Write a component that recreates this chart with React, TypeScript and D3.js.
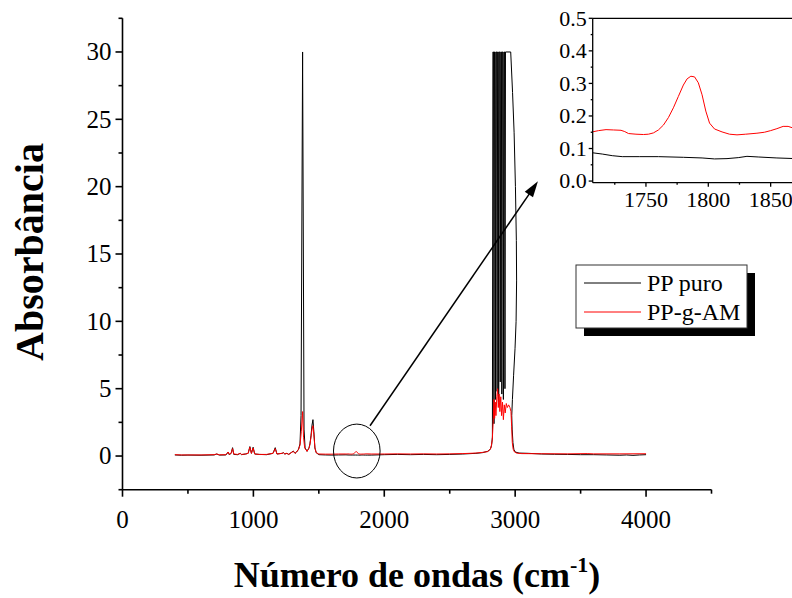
import React from 'react';
import * as d3 from 'd3';

type Pt = [number, number];

// PP puro (black) spectrum: [wavenumber cm-1, absorbance]
const ppPuro: Pt[] = [
  [400, 0.08], [450, 0.06], [500, 0.07], [600, 0.06], [700, 0.08], [720, 0.15], [740, 0.07],
  [790, 0.08], [808, 0.3], [815, 0.1], [830, 0.2], [841, 0.62], [850, 0.12], [880, 0.1],
  [899, 0.2], [910, 0.1], [940, 0.15], [960, 0.2], [973, 0.7], [985, 0.2], [998, 0.65],
  [1010, 0.15], [1045, 0.12], [1100, 0.1], [1150, 0.2], [1167, 0.62], [1180, 0.15], [1220, 0.2],
  [1229, 0.25], [1240, 0.15], [1256, 0.2], [1270, 0.12], [1305, 0.37], [1318, 0.2], [1330, 0.3],
  [1345, 0.5], [1356, 0.9], [1364, 3], [1376, 30], [1387, 2], [1395, 0.6], [1410, 0.35],
  [1425, 0.6], [1432, 0.9], [1440, 1.5], [1448, 2.3], [1455, 2.7], [1462, 1.8], [1470, 0.6],
  [1480, 0.25], [1500, 0.1], [1550, 0.08], [1600, 0.07], [1650, 0.08],
  [1707, 0.087], [1715, 0.083], [1723, 0.078], [1731, 0.075], [1745, 0.075], [1760, 0.075],
  [1780, 0.073], [1795, 0.071], [1805, 0.068], [1815, 0.069], [1824, 0.072], [1831, 0.076],
  [1840, 0.074], [1855, 0.071], [1870, 0.069],
  [1900, 0.07], [2000, 0.1], [2100, 0.12], [2200, 0.1], [2300, 0.12], [2400, 0.1], [2500, 0.12],
  [2600, 0.15], [2700, 0.2], [2750, 0.25], [2790, 0.35], [2810, 0.5], [2820, 0.8], [2826, 1.4],
  [2830, 30], [2835, 30], [2838, 2.4], [2842, 30], [2847, 30], [2850, 4.2], [2854, 30],
  [2859, 30], [2862, 4.8], [2866, 30], [2871, 30], [2874, 4.0], [2878, 30], [2883, 30],
  [2886, 5.5], [2890, 30], [2895, 30], [2898, 4.6], [2902, 30], [2907, 30], [2910, 4.2],
  [2914, 30], [2919, 30], [2922, 5], [2926, 30], [2966, 30], [2980, 27], [2992, 24],
  [3002, 20], [3009, 16], [3011, 13], [3007, 10], [2999, 8], [2988, 6], [2979, 4.2],
  [2974, 3], [2977, 2], [2983, 1], [2990, 0.5],
  [3000, 0.3], [3030, 0.22], [3100, 0.2], [3200, 0.15], [3300, 0.13], [3400, 0.12],
  [3500, 0.1], [3600, 0.1], [3700, 0.08], [3800, 0.06], [3850, 0.08], [3900, 0.05],
  [3950, 0.08], [4000, 0.1],
];

// PP-g-AM (red) spectrum
const ppgAM: Pt[] = [
  [400, 0.1], [450, 0.08], [500, 0.08], [600, 0.08], [700, 0.1], [720, 0.15], [740, 0.09],
  [790, 0.1], [808, 0.3], [815, 0.12], [830, 0.2], [841, 0.55], [850, 0.15], [880, 0.12],
  [899, 0.2], [910, 0.12], [940, 0.15], [960, 0.2], [973, 0.65], [985, 0.2], [998, 0.6],
  [1010, 0.15], [1045, 0.12], [1100, 0.12], [1150, 0.2], [1167, 0.55], [1180, 0.15], [1220, 0.2],
  [1229, 0.25], [1240, 0.15], [1256, 0.2], [1270, 0.12], [1305, 0.35], [1318, 0.2], [1330, 0.3],
  [1345, 0.5], [1356, 0.8], [1366, 1.8], [1376, 3.3], [1383, 1.4], [1392, 0.6], [1410, 0.35],
  [1425, 0.6], [1432, 0.85], [1440, 1.4], [1448, 2.0], [1455, 2.25], [1462, 1.6], [1470, 0.6],
  [1480, 0.25], [1500, 0.15], [1550, 0.14], [1600, 0.14], [1650, 0.15],
  [1707, 0.151], [1712, 0.155], [1718, 0.158], [1724, 0.157], [1730, 0.156], [1733, 0.152],
  [1736, 0.146], [1742, 0.144], [1748, 0.143], [1752, 0.144], [1756, 0.148], [1760, 0.157],
  [1764, 0.172], [1768, 0.195], [1772, 0.225], [1776, 0.26], [1780, 0.295], [1783, 0.314],
  [1786, 0.322], [1789, 0.32], [1792, 0.302], [1795, 0.265], [1798, 0.215], [1801, 0.178],
  [1805, 0.16], [1811, 0.151], [1817, 0.144], [1823, 0.142], [1830, 0.144], [1839, 0.147],
  [1845, 0.15], [1850, 0.155], [1855, 0.161], [1860, 0.168], [1864, 0.168], [1868, 0.163],
  [1875, 0.158], [1900, 0.15], [2000, 0.15], [2100, 0.16], [2200, 0.15], [2300, 0.16],
  [2400, 0.15], [2500, 0.16], [2600, 0.18], [2700, 0.22], [2750, 0.27], [2790, 0.33],
  [2805, 0.45], [2815, 0.6], [2825, 1.2], [2832, 2.5], [2838, 4.2], [2843, 2.8], [2848, 4.0],
  [2853, 3.0], [2860, 4.4], [2866, 5.0], [2871, 3.6], [2877, 4.6], [2883, 3.3], [2890, 4.4],
  [2896, 3.0], [2903, 4.0], [2910, 2.7], [2917, 3.8], [2924, 3.2], [2932, 3.9], [2940, 3.6],
  [2950, 3.8], [2960, 3.6], [2968, 3.3], [2973, 2.2], [2978, 1.0], [2985, 0.5], [2995, 0.3],
  [3010, 0.22], [3050, 0.18], [3200, 0.17], [3400, 0.16], [3550, 0.18], [3600, 0.16],
  [3800, 0.16], [4000, 0.17],
];

const seriesLabels = ['PP puro', 'PP-g-AM'];
const seriesColors = ['#000000', '#ff0000'];

const mainXTicks = [0, 1000, 2000, 3000, 4000];
const mainXMinor = [500, 1500, 2500, 3500, 4500];
const mainYTicks = [0, 5, 10, 15, 20, 25, 30];
const mainYMinor = [-2.5, 2.5, 7.5, 12.5, 17.5, 22.5, 27.5, 32.5];
const insetXTicks = [1750, 1800, 1850];
const insetXMinor = [1725, 1775, 1825];
const insetYTicks = [0, 0.1, 0.2, 0.3, 0.4, 0.5];
const insetYMinor = [0.05, 0.15, 0.25, 0.35, 0.45];

// annotation (data units of main plot)
const zoomMark = { cx: 1790, cy: 0.37, rx: 178, ry: 2.0 };
const arrowFrom: Pt = [1891, 2.25];
const arrowTo: Pt = [3174, 20.4];

const FONT = "'Times New Roman', 'Liberation Serif', serif";

export default function App() {
  const x = d3.scaleLinear().domain([0, 4500]).range([122.5, 711.5]);
  const y = d3.scaleLinear().domain([-2.5, 32.5]).range([489.7, 18.3]);
  const xi = d3.scaleLinear().domain([1707.3, 1870]).range([592.7, 795.6]);
  const yi = d3.scaleLinear().domain([-0.005, 0.5]).range([182.7, 18.3]);

  const lineMain = d3.line<Pt>().x((d) => x(d[0])).y((d) => y(d[1]));
  const lineInset = d3.line<Pt>().x((d) => xi(d[0])).y((d) => yi(d[1]));
  const series = [ppPuro, ppgAM];

  const [x0, x1] = x.range();
  const [yb, yt] = y.range();
  const [ix0, ix1] = xi.range();
  const [iyb, iyt] = yi.range();

  // arrow geometry
  const ax1 = x(arrowFrom[0]), ay1 = y(arrowFrom[1]);
  const ax2 = x(arrowTo[0]), ay2 = y(arrowTo[1]);
  const len = Math.hypot(ax2 - ax1, ay2 - ay1);
  const ux = (ax2 - ax1) / len, uy = (ay2 - ay1) / len;
  const hl = 16, hw = 5;
  const bx = ax2 - ux * hl, by = ay2 - uy * hl;
  const head = `${ax2},${ay2} ${bx - uy * hw},${by + ux * hw} ${bx + uy * hw},${by - ux * hw}`;

  const legendX = 576, legendY = 265, legendW = 171, legendH = 63;

  return (
    <svg width={792} height={598} style={{ position: 'absolute', left: 0, top: 0, background: '#fff' }}
      fontFamily={FONT}>
      <defs>
        <clipPath id="mainClip">
          <rect x={x0} y={yt} width={x1 - x0} height={yb - yt} />
        </clipPath>
        <clipPath id="insetClip">
          <rect x={ix0} y={iyt} width={ix1 - ix0} height={iyb - iyt} />
        </clipPath>
      </defs>
      <rect x={0} y={0} width={792} height={598} fill="#fff" />

      {/* main spectra */}
      <g clipPath="url(#mainClip)">
        {series.map((s, i) => (
          <path key={i} d={lineMain(s) || ''} fill="none" stroke={seriesColors[i]} strokeWidth={1} />
        ))}
      </g>

      {/* main axes */}
      <g stroke="#000" strokeWidth={1.6}>
        <line x1={x0} y1={yt} x2={x0} y2={yb} />
        <line x1={x0} y1={yb} x2={x1} y2={yb} />
        {mainYTicks.map((t) => <line key={'yt' + t} x1={x0 - 7} x2={x0} y1={y(t)} y2={y(t)} />)}
        {mainYMinor.map((t) => <line key={'ym' + t} x1={x0 - 4} x2={x0} y1={y(t)} y2={y(t)} />)}
        {mainXTicks.map((t) => <line key={'xt' + t} x1={x(t)} x2={x(t)} y1={yb} y2={yb + 7} />)}
        {mainXMinor.map((t) => <line key={'xm' + t} x1={x(t)} x2={x(t)} y1={yb} y2={yb + 4} />)}
      </g>
      <g fontSize={25} fill="#000">
        {mainYTicks.map((t) => (
          <text key={'yl' + t} x={x0 - 11} y={y(t)} dy="0.33em" textAnchor="end">{t}</text>
        ))}
        {mainXTicks.map((t) => (
          <text key={'xl' + t} x={x(t)} y={yb + 38} textAnchor="middle">{t}</text>
        ))}
      </g>
      <text transform={`translate(43,${(yt + yb) / 2 - 2}) rotate(-90)`} textAnchor="middle"
        fontSize={40} fontWeight="bold">Absorbância</text>
      <text x={(x0 + x1) / 2} y={587} textAnchor="middle" fontSize={36} fontWeight="bold">
        Número de ondas (cm<tspan fontSize={22} dy={-15}>-1</tspan><tspan dy={15}>)</tspan>
      </text>

      {/* zoom ellipse and arrow */}
      <ellipse cx={x(zoomMark.cx)} cy={y(zoomMark.cy)}
        rx={x(zoomMark.cx + zoomMark.rx) - x(zoomMark.cx)}
        ry={y(zoomMark.cy - zoomMark.ry) - y(zoomMark.cy)}
        fill="none" stroke="#000" strokeWidth={1} />
      <line x1={ax1} y1={ay1} x2={bx + ux * 2} y2={by + uy * 2} stroke="#000" strokeWidth={1.5} />
      <polygon points={head} fill="#000" />

      {/* inset */}
      <rect x={ix0} y={iyt} width={ix1 - ix0} height={iyb - iyt} fill="#fff" />
      <g clipPath="url(#insetClip)">
        {series.map((s, i) => (
          <path key={i} d={lineInset(s.filter((d) => d[0] >= 1690 && d[0] <= 1900)) || ''}
            fill="none" stroke={seriesColors[i]} strokeWidth={1} />
        ))}
      </g>
      <g stroke="#000" strokeWidth={1.3}>
        <line x1={ix0} y1={iyt} x2={ix1} y2={iyt} />
        <line x1={ix0} y1={iyt} x2={ix0} y2={iyb} />
        <line x1={ix0} y1={iyb} x2={ix1} y2={iyb} />
        {insetYTicks.map((t) => <line key={'iy' + t} x1={ix0 - 4} x2={ix0} y1={yi(t)} y2={yi(t)} />)}
        {insetYMinor.map((t) => <line key={'iym' + t} x1={ix0 - 2} x2={ix0} y1={yi(t)} y2={yi(t)} />)}
        {insetXTicks.map((t) => <line key={'ix' + t} x1={xi(t)} x2={xi(t)} y1={iyb} y2={iyb + 4} />)}
        {insetXMinor.map((t) => <line key={'ixm' + t} x1={xi(t)} x2={xi(t)} y1={iyb} y2={iyb + 2} />)}
      </g>
      <g fontSize={22} fill="#000">
        {insetYTicks.map((t) => (
          <text key={'iyl' + t} x={ix0 - 6} y={yi(t)} dy="0.33em" textAnchor="end">{t.toFixed(1)}</text>
        ))}
        {insetXTicks.map((t) => (
          <text key={'ixl' + t} x={xi(t)} y={iyb + 24} textAnchor="middle">{t}</text>
        ))}
      </g>

      {/* legend */}
      <rect x={legendX + 8} y={legendY + 8} width={legendW} height={legendH} fill="#000" />
      <rect x={legendX} y={legendY} width={legendW} height={legendH} fill="#fff" stroke="#333" strokeWidth={1} />
      {seriesLabels.map((lab, i) => (
        <g key={lab}>
          <line x1={legendX + 8} x2={legendX + 65} y1={legendY + 18 + i * 29} y2={legendY + 18 + i * 29}
            stroke={seriesColors[i]} strokeWidth={1} />
          <text x={legendX + 71} y={legendY + 26 + i * 29} fontSize={24} fill="#000">{lab}</text>
        </g>
      ))}
    </svg>
  );
}
